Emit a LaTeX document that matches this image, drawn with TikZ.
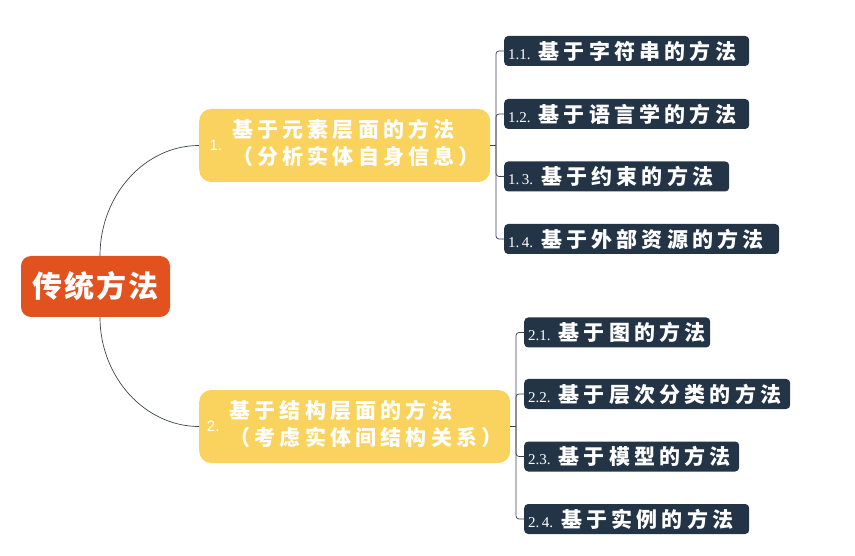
\documentclass[tikz,border=0pt]{standalone}
\usepackage{fontspec}
\newfontfamily\cjkfont[LetterSpace=20]{Noto Sans CJK SC}
\newfontfamily\rootfont[LetterSpace=6]{Noto Sans CJK SC}
\newfontfamily\numfont{Liberation Serif}
\newfontfamily\lvlnumfont{Liberation Sans}
\definecolor{rootred}{HTML}{E2521F}
\definecolor{lvlyellow}{HTML}{F9D35E}
\definecolor{leafnavy}{HTML}{243447}
\definecolor{linkgray}{HTML}{3C4250}
\begin{document}
\begin{tikzpicture}[x=1pt, y=-1pt]
      \tikzset{
  root node/.style={
    rectangle,
    rounded corners=10pt,
    fill=rootred,
    text=white,
    minimum width=149pt,
    minimum height=61pt,
    inner sep=0pt,
    font=\rootfont\bfseries\fontsize{30}{34}\selectfont
  },
  level node/.style={
    rectangle,
    rounded corners=12pt,
    fill=lvlyellow,
    text=white,
    anchor=west,
    minimum height=73pt,
    inner sep=0pt,
    font=\cjkfont\bfseries\fontsize{21}{27}\selectfont
  },
  leaf node/.style={
    rectangle,
    rounded corners=4pt,
    fill=leafnavy,
    text=white,
    anchor=west,
    align=left,
    minimum height=30pt,
    inner xsep=4pt,
    inner ysep=0pt,
    font=\cjkfont\bfseries\fontsize{21}{24}\selectfont
  },
  link/.style={
    draw=linkgray,
    line width=.7pt
  }
}
\useasboundingbox (0,0) rectangle (855,556);

\node [root node] (root) at (95.5,286.5) {传统方法};

\node [level node, minimum width=291pt] (level-1) at (199,145.5)
  {{\lvlnumfont\mdseries\fontsize{15}{18}\selectfont 1.}\hspace{10pt}\begin{tabular}{@{}l@{}}基于元素层面的方法\\（分析实体自身信息）\end{tabular}};
\node [level node, minimum width=311pt] (level-2) at (199,426.5)
  {{\lvlnumfont\mdseries\fontsize{15}{18}\selectfont 2.}\hspace{10pt}\begin{tabular}{@{}l@{}}基于结构层面的方法\\（考虑实体间结构关系）\end{tabular}};

\foreach \n/\t/\w/\y [count=\i] in {1.1./基于字符串的方法/245/51, 1.2./基于语言学的方法/245/114,
    1.\,3./基于约束的方法/225/176.5, 1.\,4./基于外部资源的方法/275/239}
{
  \pgfmathsetmacro\tw{\w-8}
  \node [leaf node, minimum width=\w pt, text width=\tw pt] (leaf-1-\i) at (504,\y)
    {{\numfont\mdseries\fontsize{15}{16}\selectfont \n}\hspace{8pt}\t};
}

\foreach \n/\t/\w/\y [count=\i] in {2.1./基于图的方法/186/332.5, 2.2./基于层次分类的方法/266/394,
    2.3./基于模型的方法/215/456.5, 2.\,4./基于实例的方法/225/519}
{
  \pgfmathsetmacro\tw{\w-8}
  \node [leaf node, minimum width=\w pt, text width=\tw pt] (leaf-2-\i) at (524,\y)
    {{\numfont\mdseries\fontsize{15}{16}\selectfont \n}\hspace{8pt}\t};
}

\draw [link] ([xshift=4.5pt]root.north) .. controls +(0,-61) and +(-54,0) .. (level-1.west);
\draw [link] ([xshift=4.5pt]root.south) .. controls +(0,60) and +(-54,0) .. (level-2.west);

\coordinate (fork-1) at (496,145.5);
\coordinate (fork-2) at (516,426.5);
\foreach \l in {1,2}
{
  \draw [link] (level-\l.east) -- (fork-\l);
  \foreach \i in {1,...,4}
    \draw [link, rounded corners=3pt] (fork-\l) |- (leaf-\l-\i.west);
}
      \end{tikzpicture}
\end{document}
